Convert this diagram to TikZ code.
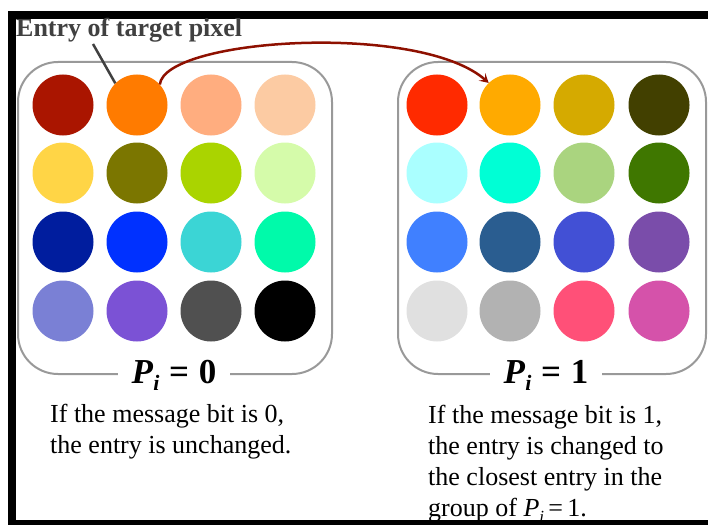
\documentclass[tikz,border=0pt]{standalone}
\usepackage{fontspec}
\setmainfont{Liberation Serif}
\usetikzlibrary{arrows.meta}

% palette, group P_i = 0
\definecolor{a11}{HTML}{AA1500}\definecolor{a12}{HTML}{FF7B00}\definecolor{a13}{HTML}{FFAD7F}\definecolor{a14}{HTML}{FCCBA3}
\definecolor{a21}{HTML}{FFD546}\definecolor{a22}{HTML}{7B7600}\definecolor{a23}{HTML}{AAD400}\definecolor{a24}{HTML}{D5FBAA}
\definecolor{a31}{HTML}{001D9E}\definecolor{a32}{HTML}{0031FF}\definecolor{a33}{HTML}{3BD5D5}\definecolor{a34}{HTML}{00FAAA}
\definecolor{a41}{HTML}{7A80D5}\definecolor{a42}{HTML}{7B52D5}\definecolor{a43}{HTML}{505050}\definecolor{a44}{HTML}{000000}
% palette, group P_i = 1
\definecolor{b11}{HTML}{FF2A00}\definecolor{b12}{HTML}{FFAA00}\definecolor{b13}{HTML}{D5AA00}\definecolor{b14}{HTML}{424000}
\definecolor{b21}{HTML}{AAFFFF}\definecolor{b22}{HTML}{00FFD5}\definecolor{b23}{HTML}{AAD47F}\definecolor{b24}{HTML}{3F7700}
\definecolor{b31}{HTML}{4080FF}\definecolor{b32}{HTML}{2A5D90}\definecolor{b33}{HTML}{4250D5}\definecolor{b34}{HTML}{7A4DAA}
\definecolor{b41}{HTML}{E0E0E0}\definecolor{b42}{HTML}{B2B2B2}\definecolor{b43}{HTML}{FF5078}\definecolor{b44}{HTML}{D552AA}

\definecolor{boxgray}{HTML}{999999}
\definecolor{labelgray}{HTML}{404040}
\definecolor{arrowred}{HTML}{8E1000}

\tikzset{
  dot/.style={circle, minimum size=61pt, inner sep=0pt, draw=none},
  groupbox/.style={draw=boxgray, line width=2pt, rounded corners=40pt},
  grouplabel/.style={fill=white, inner xsep=14pt, inner ysep=1pt, anchor=base,
    font=\fontsize{35}{40}\selectfont\bfseries},
  % anchored on the baseline of the last line
  bodytext/.style={anchor=base west, align=left, inner sep=0pt, font=\fontsize{26}{31}\selectfont},
}

\newcommand{\Pidx}[1]{\textit{P}\raisebox{-0.22em}{\fontsize{22}{22}\selectfont\textit{i}}\;=\;#1}

\begin{document}
\begin{tikzpicture}[x=1pt, y=-1pt]
  \useasboundingbox (0,0) rectangle (708,524);
  \clip (0,0) rectangle (708,524);

  % the two groups
  \draw[groupbox] (18,62) rectangle (332,374);
  \draw[groupbox] (398,62) rectangle (706,374);

  % colour entries
  \foreach \r/\y in {1/105, 2/173, 3/242, 4/311} {
    \foreach \c/\xa/\xb in {1/63/437, 2/137/510, 3/211/584, 4/285/659} {
      \node[dot, fill=a\r\c] (L\r\c) at (\xa,\y) {};
      \node[dot, fill=b\r\c] (R\r\c) at (\xb,\y) {};
    }
  }

  % group labels over the lower box edges
  \node[grouplabel] (lab0) at (174,383) {\Pidx{0}};
  \node[grouplabel] (lab1) at (546,383) {\Pidx{1}};

  % explanations
  \node[bodytext] (txt0) at (50,453) {If the message bit is 0,\\the entry is unchanged.};
  \node[bodytext] (txt1) at (428,516) {If the message bit is 1,\\the entry is changed to\\the closest entry in the\\group of \textit{P}\raisebox{-0.25em}{\fontsize{17}{17}\selectfont\textit{i}}\,=\,1.};

  % outer frame, drawn over the text near the lower edge
  \draw[line width=8pt, line join=miter] (730,15) -- (12,15) -- (12,524) -- (730,524);

  % pointer to the target entry
  \node[anchor=base west, inner sep=0pt, text=labelgray, font=\fontsize{26}{30}\selectfont\bfseries] (entry) at (16,37) {Entry of target pixel};
  \coordinate (ptr) at (93,44);
  \draw[labelgray, line width=2.5pt] (ptr) -- (L12.135);

  % mapping of the entry into the other group
  \draw[arrowred, line width=2.5pt, -{Stealth[length=9pt, width=10pt, inset=4pt]}]
    (L12.42) .. controls (165,38) and (420,22) .. (R12.134);
\end{tikzpicture}
\end{document}
